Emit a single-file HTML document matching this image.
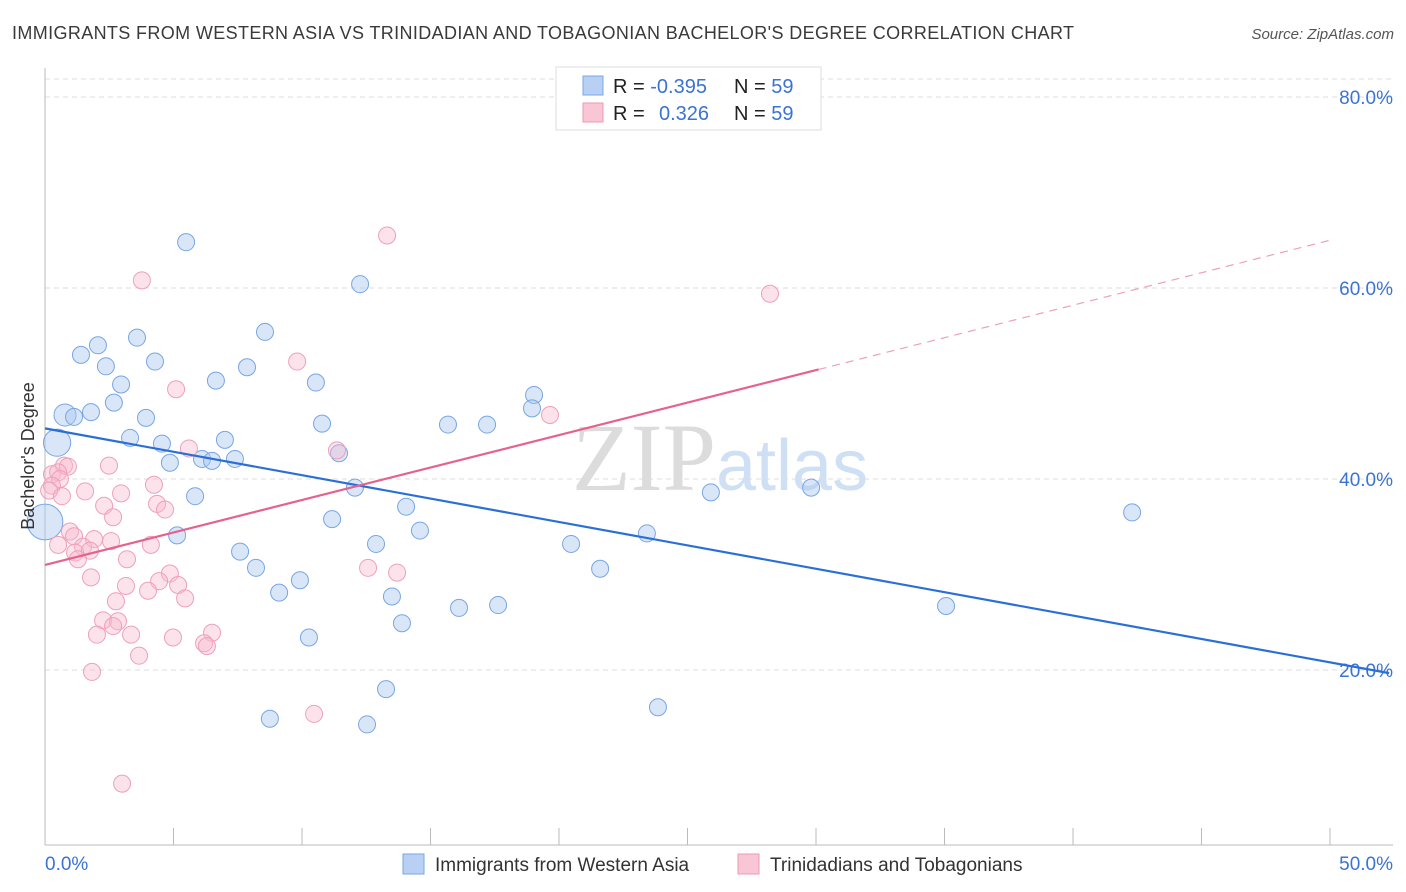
<!DOCTYPE html>
<html><head><meta charset="utf-8"><style>
body{margin:0;background:#fff;font-family:"Liberation Sans",sans-serif;}
#wrap{position:relative;width:1406px;height:892px;overflow:hidden;}
</style></head><body>
<div id="wrap">
<svg id="svg" width="1406" height="892" xmlns="http://www.w3.org/2000/svg">
<text x="12" y="39" font-size="18" fill="#3a3a3a" textLength="1062">IMMIGRANTS FROM WESTERN ASIA VS TRINIDADIAN AND TOBAGONIAN BACHELOR'S DEGREE CORRELATION CHART</text>
<text x="1394" y="39" font-size="15" fill="#555" font-style="italic" text-anchor="end">Source: ZipAtlas.com</text>
<text x="716" y="490" font-size="96" fill="#dcdcdc" font-family="Liberation Serif,serif" text-anchor="end">ZIP</text>
<text x="716" y="490" font-size="72" fill="#cfe0f5">atlas</text>
<g id="grid"></g><g id="axes"></g><g id="pts"></g><g id="lines"></g>
<text x="34" y="456" font-size="18" fill="#333" text-anchor="middle" transform="rotate(-90 34 456)">Bachelor's Degree</text>
<rect x="556" y="67" width="265" height="63" fill="#fff" stroke="#ddd"/>
<rect x="583" y="76" width="20" height="19" fill="#b7d0f3" stroke="#7aa7e6"/>
<rect x="583" y="103" width="20" height="19" fill="#f9c6d6" stroke="#ec9ab6"/>
<text x="613" y="93" font-size="20" fill="#222">R = <tspan fill="#3b73d4">-0.395</tspan><tspan x="734">N = </tspan><tspan fill="#3b73d4">59</tspan></text>
<text x="613" y="120" font-size="20" fill="#222">R = <tspan x="659" fill="#3b73d4">0.326</tspan><tspan x="734">N = </tspan><tspan fill="#3b73d4">59</tspan></text>
<rect x="403" y="854" width="21" height="20" fill="#b7d0f3" stroke="#7aa7e6"/>
<text x="435" y="871" font-size="19" fill="#333">Immigrants from Western Asia</text>
<rect x="738" y="854" width="21" height="20" fill="#f9c6d6" stroke="#ec9ab6"/>
<text x="770" y="871" font-size="19" fill="#333">Trinidadians and Tobagonians</text>
</svg></div>
<script>
const blueX=[5.49,12.26,8.56,3.58,2.06,1.40,4.28,2.37,7.86,6.65,2.96,10.54,19.03,18.95,2.68,0.78,1.13,1.79,3.93,10.78,15.68,17.2,3.31,7.0,4.55,0.47,11.44,6.11,6.5,7.39,4.86,12.06,25.91,29.81,5.84,14.05,42.3,11.17,14.59,0,5.14,12.88,20.47,23.42,7.59,8.21,21.6,9.92,9.11,13.5,16.11,17.63,35.06,13.89,10.27,13.27,23.85,8.75,12.53];
const blueY=[64.8,60.4,55.4,54.8,54.0,53.0,52.3,51.8,51.7,50.3,49.9,50.1,48.8,47.4,48.0,46.7,46.5,47.0,46.4,45.8,45.7,45.7,44.3,44.1,43.7,43.8,42.7,42.1,41.9,42.1,41.7,39.1,38.6,39.1,38.2,37.1,36.5,35.8,34.6,35.5,34.1,33.2,33.2,34.3,32.4,30.7,30.6,29.4,28.1,27.7,26.5,26.8,26.7,24.9,23.4,18.0,16.1,14.9,14.3];
const blueSize=[1,1,1,1,1,1,1,1,1,1,1,1,1,1,1,1.3,1,1,1,1,1,1,1,1,1,1.6,1,1,1,1,1,1,1,1,1,1,1,1,1,2.1,1,1,1,1,1,1,1,1,1,1,1,1,1,1,1,1,1,1,1];
const pinkX=[13.31,3.77,28.21,9.81,5.1,19.65,11.36,5.6,0.74,2.49,0.89,0.27,0.51,0.58,0.27,0.16,1.56,0.66,2.96,4.24,2.3,4.36,4.67,2.65,0.97,1.13,1.91,2.57,1.48,4.12,0.51,1.17,1.75,3.19,1.28,12.57,4.86,13.7,1.79,4.44,3.15,5.18,4.01,5.45,2.76,2.26,2.84,2.65,2.02,3.35,6.5,4.98,6.19,6.3,3.66,1.83,10.47,3.0];
const pinkY=[65.5,60.8,59.4,52.3,49.4,46.7,43.0,43.2,41.4,41.4,41.3,40.5,40.7,40.0,39.3,38.8,38.7,38.2,38.5,39.4,37.2,37.4,36.8,36.0,34.5,34.0,33.7,33.5,32.9,33.1,33.1,32.3,32.5,31.6,31.6,30.7,30.1,30.2,29.7,29.3,28.8,28.9,28.3,27.5,27.2,25.2,25.1,24.6,23.7,23.7,23.9,23.4,22.8,22.5,21.5,19.8,15.4,8.1];
const blueTrend=[45.3,-0.49];
const pinkTrend=[31.0,0.68];
const yTicks=[20,40,60,80];
const yTickLabels=["20.0%","40.0%","60.0%","80.0%"];
const NS="http://www.w3.org/2000/svg";
const X=v=>45+v*25.7, Y=v=>861-v*9.55;
function mk(t,a,p){const e=document.createElementNS(NS,t);for(const k in a)e.setAttribute(k,a[k]);document.getElementById(p).appendChild(e);return e;}
let g=mk('line',{x1:45,x2:1393,y1:79,y2:79,stroke:'#ddd','stroke-dasharray':'5,4'},'grid');

yTicks.forEach((t,i)=>{
 let l=mk('line',{x1:45,x2:1393,y1:Y(t),y2:Y(t),stroke:'#ddd','stroke-dasharray':'5,4'},'grid');
 
 let tx=mk('text',{x:1393,y:Y(t)+7,'font-size':19,fill:'#3b73d4','text-anchor':'end'},'axes');tx.textContent=yTickLabels[i];
 
});
let ya=mk('line',{x1:45,x2:45,y1:68,y2:845,stroke:'#bbb'},'axes');
let xa=mk('line',{x1:45,x2:1393,y1:845,y2:845,stroke:'#bbb'},'axes');
for(let k=0;k<=10;k++){let t=mk('line',{x1:X(k*5),x2:X(k*5),y1:828,y2:845,stroke:'#bbb'},'axes');}
let x0=mk('text',{x:45,y:870,'font-size':19,fill:'#3b73d4'},'axes');x0.textContent='0.0%';
let x1=mk('text',{x:1393,y:870,'font-size':19,fill:'#3b73d4','text-anchor':'end'},'axes');x1.textContent='50.0%';
blueX.forEach((v,i)=>{let c=mk('circle',{cx:X(v),cy:Y(blueY[i]),r:8.5*blueSize[i],fill:'rgba(168,200,240,0.45)',stroke:'#78a6e4','stroke-width':1},'pts');
 });
pinkX.forEach((v,i)=>{let c=mk('circle',{cx:X(v),cy:Y(pinkY[i]),r:8.5,fill:'rgba(247,184,204,0.4)',stroke:'#eea0ba','stroke-width':1},'pts');
 });
let bl=mk('line',{x1:X(0),y1:Y(blueTrend[0]),x2:X(52.3),y2:Y(blueTrend[0]+blueTrend[1]*52.3),stroke:'#2a6fd6','stroke-width':2.2},'lines');

let pl=mk('line',{x1:X(0),y1:Y(pinkTrend[0]),x2:X(30.1),y2:Y(pinkTrend[0]+pinkTrend[1]*30.1),stroke:'#e5628e','stroke-width':2.2},'lines');

let pd=mk('line',{x1:X(30.1),y1:Y(pinkTrend[0]+pinkTrend[1]*30.1),x2:X(50),y2:Y(pinkTrend[0]+pinkTrend[1]*50),stroke:'#eea0ba','stroke-width':1.2,'stroke-dasharray':'8,6'},'lines');

</script>
</body></html>
